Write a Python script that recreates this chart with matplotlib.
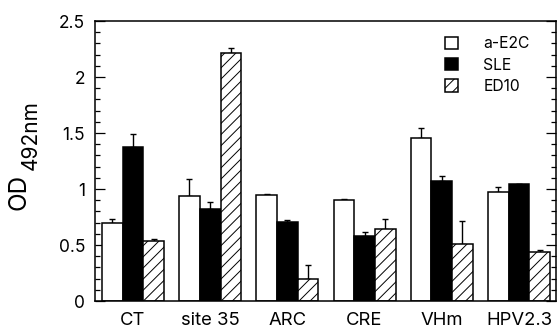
import matplotlib
matplotlib.use("Agg")
import matplotlib.pyplot as plt
import numpy as np
from matplotlib.ticker import MultipleLocator

plt.rcParams['font.family'] = ['Inter', 'DejaVu Sans']
plt.rcParams['hatch.linewidth'] = 0.7

categories = ["CT", "site 35", "ARC", "CRE", "VHm", "HPV2.3"]
series_names = ["a-E2C", "SLE", "ED10"]
a_e2c = [0.70, 0.94, 0.943, 0.902, 1.452, 0.976]
a_e2c_err = [0.035, 0.146, 0.012, 0.006, 0.09, 0.045]
sle = [1.378, 0.821, 0.708, 0.580, 1.068, 1.048]
sle_err = [0.11, 0.063, 0.015, 0.033, 0.051, 0.0]
ed10 = [0.536, 2.217, 0.193, 0.643, 0.509, 0.435]
ed10_err = [0.021, 0.045, 0.125, 0.086, 0.205, 0.02]

fig = plt.figure(figsize=(5.57, 3.31), dpi=100)
ax = fig.add_axes([95/557, 1-301/331, (556-95)/557, (301-21)/331])

x = np.arange(len(categories))
w = 0.268
vals = [a_e2c, sle, ed10]
errs = [a_e2c_err, sle_err, ed10_err]
faces = ['white', 'black', 'white']
hatches = [None, None, '///']
handles = []
for k in range(3):
    xs = x + (k - 1) * w
    b = ax.bar(xs, vals[k], w, color=faces[k], edgecolor='black', linewidth=1.1,
               hatch=hatches[k], label=series_names[k], zorder=2)
    handles.append(b)
    e = np.array(errs[k])
    ax.errorbar(xs, vals[k], yerr=[np.zeros_like(e), e], fmt='none', ecolor='black',
                elinewidth=1.0, capsize=2.3, capthick=1.0, zorder=1)

ax.set_xlim(-0.492, 5.48)
ax.set_ylim(0, 2.5)
ax.set_xticks(x)
ax.set_xticklabels(categories, fontsize=13.3)
ax.yaxis.set_minor_locator(MultipleLocator(0.1))
ax.set_yticks([0, 0.5, 1, 1.5, 2, 2.5])
ax.set_yticklabels(['0', '0.5', '1', '1.5', '2', '2.5'], fontsize=12.5)
ax.tick_params(axis='y', which='both', direction='in', right=True, labelright=False)
ax.tick_params(axis='y', which='major', length=7, width=0.9, pad=7)
ax.tick_params(axis='y', which='minor', length=3.6, width=0.9)
ax.tick_params(axis='x', length=0, pad=8)
for s in ax.spines.values():
    s.set_linewidth(1.1)

fig.text(18.7/557, 1-191.7/331, "OD", rotation=90, ha='center', va='center', fontsize=17.5)
fig.text(31/557, 1-135/331, "492nm", rotation=90, ha='center', va='center', fontsize=15)

leg = ax.legend(handles=handles, loc='upper left', bbox_to_anchor=(0.745, 0.968),
                frameon=False, fontsize=11.3, handlelength=0.85, handleheight=0.85,
                handletextpad=1.6, labelspacing=0.4, borderaxespad=0)

fig.savefig("out.png", dpi=100)
